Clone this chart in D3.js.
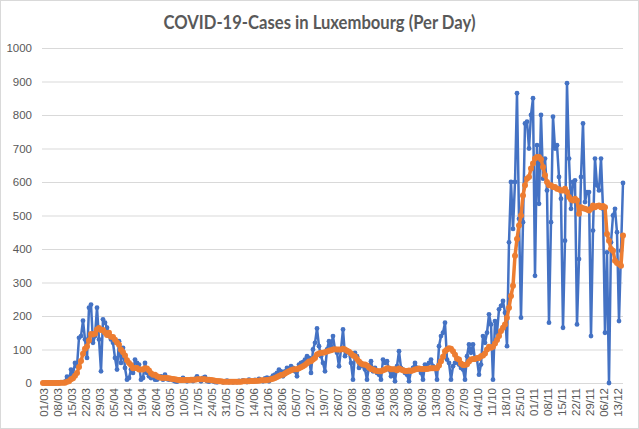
<!DOCTYPE html>
<html>
<head>
<meta charset="utf-8">
<script src="https://cdnjs.cloudflare.com/ajax/libs/d3/7.8.5/d3.min.js"></script>
<style>
  body { margin: 0; background: #fff; }
  svg { display: block; font-family: Lato, "Noto Sans", sans-serif; }
</style>
</head>
<body>
<div id="chart"></div>
<script>
// 1. Data (one value per day from 01/03 to 16/12)
const startDate = new Date(2020, 2, 1)
const endDate = new Date(2020, 11, 17) // exclusive
const tickLabels = ["01/03","08/03","15/03","22/03","29/03","05/04","12/04","19/04","26/04",
  "03/05","10/05","17/05","24/05","31/05","07/06","14/06","21/06","28/06","05/07","12/07",
  "19/07","26/07","02/08","09/08","16/08","23/08","30/08","06/09","13/09","20/09","27/09",
  "04/10","11/10","18/10","25/10","01/11","08/11","15/11","22/11","29/11","06/12","13/12"]
const yTicks = [0, 100, 200, 300, 400, 500, 600, 700, 800, 900, 1000]

const casesPerDay = [
  0,0,0,0,0,0,0,1,1,2,1,
  4,19,8,40,26,60,50,135,140,186,
  130,75,225,234,120,140,225,130,35,190,
  180,165,140,130,120,75,40,125,60,105,
  45,10,15,40,30,70,60,55,10,15,
  60,30,20,15,25,10,10,15,20,10,
  25,12,10,12,8,5,4,10,7,15,
  10,5,8,10,6,12,20,10,5,15,
  18,6,4,8,5,3,2,6,4,2,
  5,7,3,4,2,5,3,6,4,8,
  5,3,10,7,4,9,6,12,8,5,
  14,16,5,15,22,25,30,40,35,20,
  35,45,40,50,45,35,20,55,60,62,
  70,80,75,30,100,120,163,110,80,60,
  35,100,125,110,140,100,90,50,100,160,
  80,95,90,60,10,90,80,45,60,50,
  40,10,50,65,35,45,30,25,10,70,
  60,65,40,20,30,5,50,95,45,40,
  30,25,5,35,45,60,45,40,30,10,
  55,45,60,70,50,45,10,110,140,150,
  180,70,60,10,50,60,70,55,45,40,
  10,80,115,90,115,70,70,25,55,140,
  120,150,205,175,10,185,150,220,230,245,
  210,110,420,600,460,600,865,490,195,480,
  775,780,700,800,850,320,710,535,800,610,
  670,575,180,480,795,700,710,615,550,165,
  425,895,670,520,600,605,175,370,615,775,
  540,570,570,140,455,670,590,575,670,520,
  150,390,0,420,500,520,450,185,395,597
]

const average7Day = [
  0,0,0,0,0,0,0,0,0,1,1,
  1,4,5,11,14,22,30,48,66,87,
  102,109,127,146,145,147,160,164,158,158,
  151,143,150,138,137,129,121,114,99,92,
  82,68,60,54,44,45,45,40,40,40,
  44,43,37,29,25,25,20,17,16,15,
  16,15,14,13,12,11,10,9,9,9,
  9,9,9,10,10,10,11,11,11,11,
  11,10,10,9,8,7,6,5,5,4,
  4,4,4,4,4,4,4,4,4,5,
  5,5,5,6,6,6,7,7,8,8,
  8,9,10,11,13,15,18,21,24,25,
  28,32,35,38,40,41,41,44,47,50,
  54,59,64,65,70,75,85,88,90,90,
  92,94,96,98,100,101,100,100,100,102,
  100,96,93,88,82,79,72,64,58,55,
  55,52,46,42,40,37,36,35,35,38,
  40,44,43,41,41,41,38,43,40,38,
  36,36,37,36,38,40,42,43,42,42,
  42,42,43,44,44,44,44,52,65,78,
  95,100,104,102,95,84,73,70,58,54,
  54,56,64,70,72,72,75,75,80,82,
  88,100,108,105,108,118,128,140,155,165,
  175,195,225,260,290,380,430,470,500,560,
  590,610,615,640,655,670,675,675,668,645,
  620,600,590,590,585,585,580,578,575,575,
  580,570,555,548,545,550,545,505,525,522,
  520,518,515,520,530,525,528,530,525,528,
  525,445,425,400,395,365,358,355,350,440
]

function drawChart() {
  const width = 639
  const height = 429
  const margin = { top: 48, right: 16, bottom: 46, left: 42 }
  const textColor = "#595959"
  const gridColor = "#d9d9d9"

  const dayLabels = d3.timeDay.range(startDate, endDate).map(d3.timeFormat("%d/%m"))

  const svg = d3.select("#chart").append("svg")
    .attr("width", width)
    .attr("height", height)

  // chart area border
  svg.append("rect")
    .attr("x", 0.5).attr("y", 0.5)
    .attr("width", width - 1).attr("height", height - 1)
    .attr("fill", "#fff")
    .attr("stroke", gridColor)

  // 2. Scales
  const x = d3.scalePoint()
    .domain(dayLabels)
    .range([margin.left + 1, width - margin.right])

  const y = d3.scaleLinear()
    .domain([0, 1000])
    .range([height - margin.bottom, margin.top])

  // 3. Gridlines + y labels
  const yAxis = d3.axisLeft(y)
    .tickValues(yTicks)
    .tickFormat(d3.format("d"))
    .tickSize(-(width - margin.right - margin.left))
    .tickPadding(10)

  svg.append("g")
    .attr("transform", `translate(${margin.left},0)`)
    .call(yAxis)
    .call(g => g.select(".domain").remove())
    .call(g => g.selectAll("line").attr("stroke", gridColor))
    .call(g => g.selectAll("text")
      .attr("fill", textColor)
      .style("font-size", "11.5px"))

  // x axis with rotated date labels
  const xAxis = d3.axisBottom(x)
    .tickValues(tickLabels)
    .tickSize(0)

  svg.append("g")
    .attr("transform", `translate(0,${height - margin.bottom})`)
    .call(xAxis)
    .call(g => g.select(".domain").attr("stroke", gridColor)
      .attr("d", `M${margin.left},0.5H${width - margin.right}`))
    .call(g => g.selectAll("text")
      .attr("fill", textColor)
      .style("font-size", "11.5px")
      .attr("text-anchor", "end")
      .attr("transform", "rotate(-90)")
      .attr("x", -5)
      .attr("y", 0)
      .attr("dy", "0.35em"))

  // 4. Lines and markers
  const line = d3.line()
    .x((d, i) => x(dayLabels[i]))
    .y(d => y(d))

  const series = [
    { values: casesPerDay, color: "#4472C4", width: 2.5, r: 2.4 },
    { values: average7Day, color: "#ED7D31", width: 3.5, r: 3 }
  ]

  series.forEach(s => {
    svg.append("path")
      .datum(s.values)
      .attr("fill", "none")
      .attr("stroke", s.color)
      .attr("stroke-width", s.width)
      .attr("stroke-linejoin", "round")
      .attr("d", line)

    svg.append("g")
      .selectAll("circle")
      .data(s.values)
      .join("circle")
        .attr("cx", (d, i) => x(dayLabels[i]))
        .attr("cy", d => y(d))
        .attr("r", s.r)
        .attr("fill", s.color)
  })

  // title
  svg.append("text")
    .attr("x", width / 2)
    .attr("y", 29)
    .attr("text-anchor", "middle")
    .attr("fill", textColor)
    .attr("textLength", 312)
    .attr("lengthAdjust", "spacingAndGlyphs")
    .style("font-size", "18px")
    .style("font-weight", "bold")
    .text("COVID-19-Cases in Luxembourg (Per Day)")
}

drawChart()
</script>
</body>
</html>
